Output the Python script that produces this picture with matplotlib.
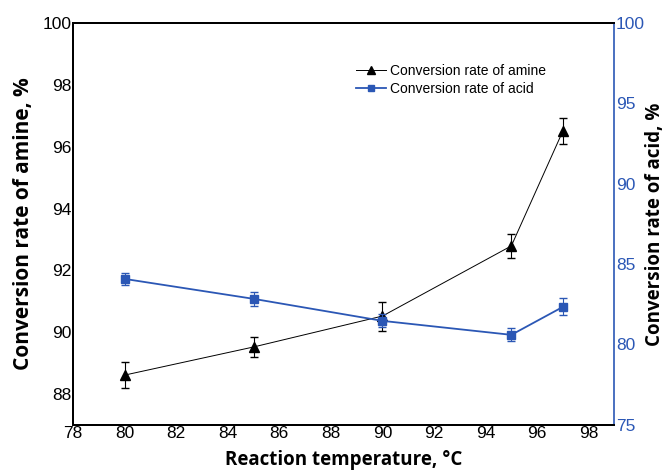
import matplotlib.pyplot as plt
from matplotlib.lines import Line2D

# Data
temp = [80, 85, 90, 95, 97]
amine = [88.61, 89.52, 90.52, 92.79, 96.51]
amine_err = [0.43, 0.33, 0.47, 0.38, 0.42]
acid = [84.08, 82.84, 81.47, 80.60, 82.34]
acid_err = [0.35, 0.45, 0.40, 0.40, 0.53]

BLUE = "#2b57b5"
TICK_FONT = "Liberation Sans"
LABEL_FONT = "Open Sans"

fig = plt.figure(figsize=(6.65, 4.71), dpi=100)
ax = fig.add_axes([0.110, 0.098, 0.814, 0.853])
ax2 = ax.twinx()

ax.errorbar(temp, amine, yerr=amine_err, color="black", marker="^",
            markersize=7.5, linewidth=0.7, elinewidth=0.8, capsize=3,
            zorder=3)
ax2.errorbar(temp, acid, yerr=acid_err, color=BLUE, marker="s",
             markersize=6, linewidth=1.3, elinewidth=0.8, capsize=3,
             zorder=3)

ax.set_xlim(78, 99)
ax.set_ylim(87, 100)
ax2.set_ylim(75, 100)
ax.set_xticks(range(78, 99, 2))
ax.set_yticks(range(88, 101, 2))
ax2.set_yticks(range(75, 101, 5))

for a in (ax, ax2):
    a.tick_params(length=0, pad=1)
    for lbl in a.get_xticklabels() + a.get_yticklabels():
        lbl.set_fontfamily(TICK_FONT)
        lbl.set_fontsize(12.5)
for lbl in ax2.get_yticklabels():
    lbl.set_color(BLUE)

for s in ("left", "bottom", "top"):
    ax.spines[s].set_linewidth(1.4)
    ax2.spines[s].set_linewidth(1.4)
ax2.spines["right"].set_color(BLUE)
ax2.spines["right"].set_linewidth(1.2)
ax.spines["right"].set_visible(False)

ax.set_xlabel("Reaction temperature, °C", fontsize=13.5, fontweight="bold",
              family=LABEL_FONT, labelpad=6)
ax.set_ylabel("Conversion rate of amine, %", fontsize=15, fontweight="bold",
              family=LABEL_FONT, labelpad=6)
ax2.set_ylabel("Conversion rate of acid, %", fontsize=13.5, fontweight="bold",
               family=LABEL_FONT, labelpad=0)

handles = [
    Line2D([], [], color="black", linewidth=0.7, marker="^", markersize=6),
    Line2D([], [], color=BLUE, linewidth=1.3, marker="s", markersize=5),
]
labels = ["Conversion rate of amine", "Conversion rate of acid"]
ax2.legend(handles, labels, loc="upper left",
           bbox_to_anchor=(0.522, 0.898), frameon=False,
           prop={"family": TICK_FONT, "size": 10},
           handlelength=2.2, handletextpad=0.3, labelspacing=0.3,
           borderaxespad=0, borderpad=0)

fig.savefig("out.png", dpi=100)
